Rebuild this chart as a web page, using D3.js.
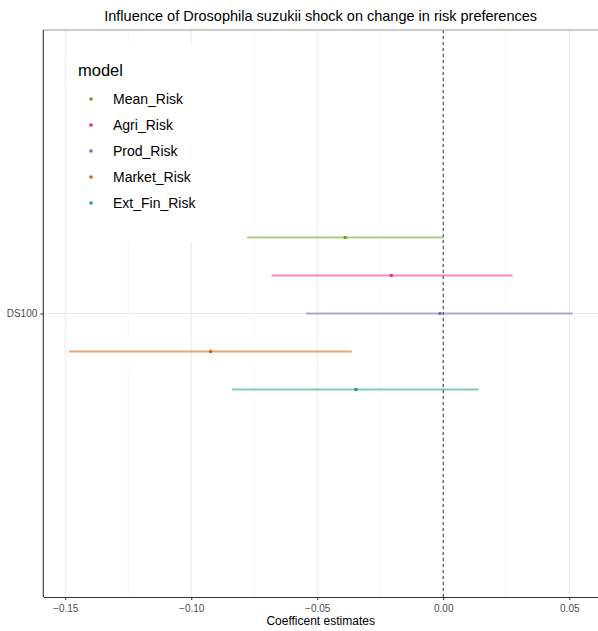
<!DOCTYPE html>
<html><head><meta charset="utf-8">
<script src="https://cdn.jsdelivr.net/npm/d3@7"></script>
<style>body{margin:0;background:#fff;}svg{display:block;font-family:"Liberation Sans",Arial,sans-serif;}</style>
</head><body><svg id="c" width="598" height="631"></svg>
<script>
const models = ["Mean_Risk","Agri_Risk","Prod_Risk","Market_Risk","Ext_Fin_Risk"];
const estimates = [-0.0389, -0.0206, -0.0013, -0.0923, -0.0347];
const lower = [-0.0778, -0.0681, -0.0545, -0.1485, -0.0838];
const upper = [0.0000, 0.0275, 0.0513, -0.0363, 0.0141];
const colors = ["#66a61e","#e7298a","#7570b3","#d95f02","#1b9e77"];
const term = "DS100";
const xTicks = [-0.15,-0.10,-0.05,0.00,0.05];
const xMinor = [-0.125,-0.075,-0.025,0.025];

const svg = d3.select("#c");
const L=43.3, R=598, T=30, B=597;
const x = d3.scaleLinear().domain([-0.1587,0.0614]).range([L,R]);
const y = d3.scalePoint().domain([term]).range([T,B]).padding(0.5);
const dodge = d3.scaleBand().domain(models).range([-95,95]);

// grid
const g = svg.append("g");
g.selectAll(".minor").data(xMinor).enter().append("line")
  .attr("x1",d=>x(d)).attr("x2",d=>x(d)).attr("y1",T).attr("y2",B)
  .attr("stroke","#f2f2f2").attr("stroke-width",0.6);
g.selectAll(".major").data(xTicks).enter().append("line")
  .attr("x1",d=>x(d)).attr("x2",d=>x(d)).attr("y1",T).attr("y2",B)
  .attr("stroke","#ebebeb").attr("stroke-width",1.1);
g.append("line").attr("x1",L).attr("x2",R).attr("y1",y(term)).attr("y2",y(term))
  .attr("stroke","#ebebeb").attr("stroke-width",1.1);

// legend background (covers grid)
svg.append("rect").attr("x",70).attr("y",43).attr("width",140).attr("height",199).attr("fill","#fff");

// zero line
svg.append("line").attr("x1",x(0)).attr("x2",x(0)).attr("y1",T).attr("y2",B)
  .attr("stroke","#555").attr("stroke-width",1.2).attr("stroke-dasharray","3,3");

// intervals
const data = models.map((m,i)=>({m,est:estimates[i],lo:lower[i],hi:upper[i],c:colors[i]}));
const yy = d => y(term) + dodge(d.m) + dodge.bandwidth()/2;
svg.selectAll(".ci").data(data).enter().append("line")
  .attr("x1",d=>x(d.lo)).attr("x2",d=>x(d.hi)).attr("y1",yy).attr("y2",yy)
  .attr("stroke",d=>d.c).attr("stroke-width",2).attr("stroke-opacity",0.55);
svg.selectAll(".pt").data(data).enter().append("circle")
  .attr("cx",d=>x(d.est)).attr("cy",yy).attr("r",1.8).attr("fill",d=>d.c);

// panel border
svg.append("line").attr("x1",L).attr("x2",R).attr("y1",T).attr("y2",T).attr("stroke","#999").attr("stroke-width",1);

// axes
const xa = svg.append("g").attr("transform",`translate(0,${B})`)
  .call(d3.axisBottom(x).tickValues(xTicks).tickFormat(d3.format(".2f")).tickSize(3).tickSizeOuter(0));
xa.select(".domain").attr("stroke","#333").attr("stroke-width",1.1);
xa.selectAll(".tick line").attr("stroke","#333");
xa.selectAll("text").attr("fill","#4d4d4d").attr("font-size",10).attr("dy","0.9em");
const ya = svg.append("g").attr("transform",`translate(${L},0)`)
  .call(d3.axisLeft(y).tickSize(3).tickSizeOuter(0));
ya.select(".domain").attr("d",`M0,${T}V${B}`).attr("stroke","#333").attr("stroke-width",1.1);
ya.selectAll(".tick line").attr("stroke","#333");
ya.selectAll("text").attr("fill","#4d4d4d").attr("font-size",10);

// titles
svg.append("text").attr("x",(L+R)/2).attr("y",21).attr("text-anchor","middle")
  .attr("font-size",14.5).attr("fill","#000").text("Influence of Drosophila suzukii shock on change in risk preferences");
svg.append("text").attr("x",(L+R)/2).attr("y",625).attr("text-anchor","middle")
  .attr("font-size",12).attr("fill","#000").text("Coefficent estimates");

// legend
svg.append("text").attr("x",78).attr("y",76).attr("font-size",16.5).attr("fill","#000").text("model");
const lg = svg.selectAll(".lg").data(data).enter().append("g")
  .attr("transform",(d,i)=>`translate(0,${99+i*26})`);
lg.append("circle").attr("cx",91).attr("cy",0).attr("r",1.8).attr("fill",d=>d.c);
lg.append("text").attr("x",113).attr("y",5).attr("font-size",14).attr("fill","#000").text(d=>d.m);
</script></body></html>
